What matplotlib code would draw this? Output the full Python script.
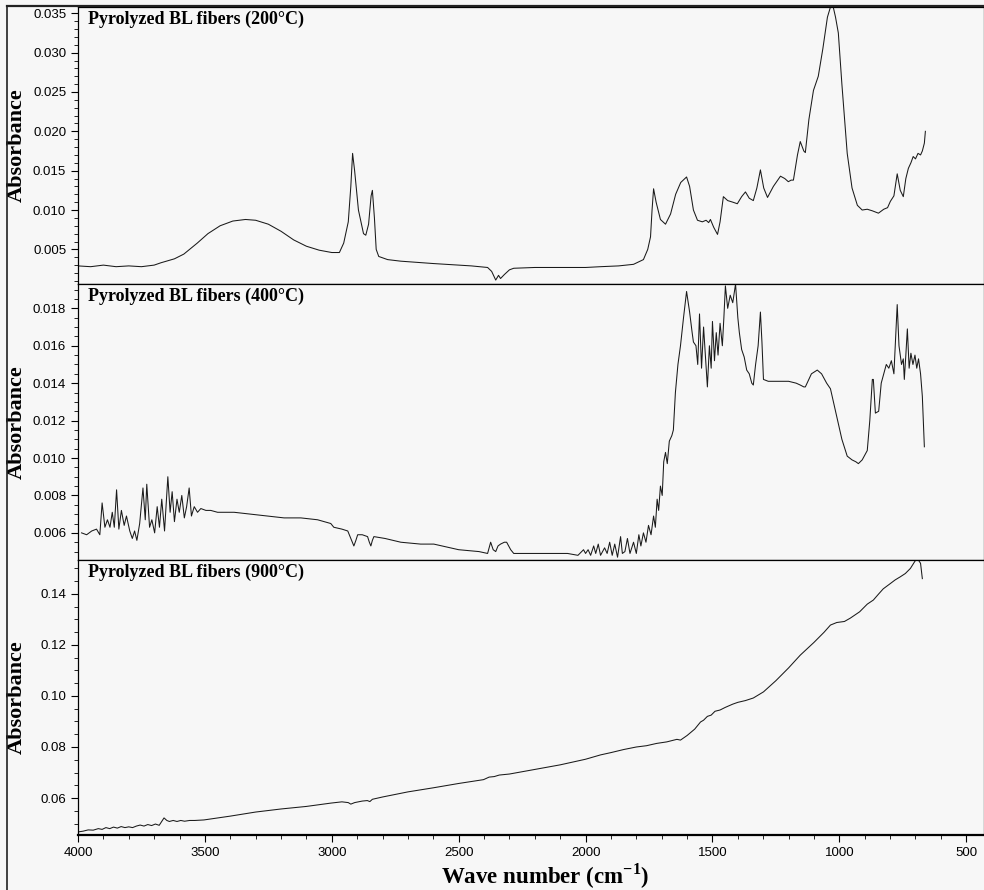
import matplotlib
matplotlib.use("Agg")
import matplotlib.pyplot as plt
from matplotlib.ticker import MultipleLocator, FormatStrFormatter
from matplotlib.lines import Line2D

plt.rcParams["font.family"] = ["Liberation Sans", "DejaVu Sans"]
plt.rcParams["mathtext.fontset"] = "custom"
plt.rcParams["mathtext.rm"] = "Liberation Serif:bold"
plt.rcParams["mathtext.bf"] = "Liberation Serif:bold"

# ---------- data ----------
wn_200 = [4000, 3950, 3900, 3850, 3800, 3750, 3700, 3673, 3620, 3583, 3530, 3488, 3440, 3390,
          3340, 3300, 3250, 3200, 3150, 3100, 3050, 3000, 2970, 2953, 2935, 2925, 2918, 2910,
          2895, 2875, 2866, 2855, 2845, 2840, 2832, 2825, 2815, 2780, 2728, 2600, 2450, 2386,
          2370, 2354, 2343, 2335, 2320, 2300, 2283, 2200, 2100, 2000, 1941, 1870, 1811, 1772,
          1755, 1744, 1738, 1732, 1722, 1705, 1685, 1665, 1645, 1625, 1602, 1590, 1575, 1559,
          1540, 1525, 1515, 1508, 1495, 1480, 1470, 1457, 1440, 1420, 1402, 1385, 1370, 1355,
          1339, 1325, 1311, 1298, 1283, 1260, 1232, 1215, 1201, 1190, 1181, 1165, 1154, 1140,
          1134, 1120, 1102, 1083, 1065, 1047, 1035, 1029, 1015, 1004, 990, 969, 950, 929, 910,
          890, 870, 846, 825, 810, 799, 785, 772, 760, 748, 738, 728, 718, 709, 700, 690, 680,
          673, 665, 661]
abs_200 = [0.0029, 0.0028, 0.0030, 0.0028, 0.0029, 0.0028, 0.0030, 0.0033, 0.0038, 0.0044,
           0.0058, 0.0070, 0.0080, 0.0086, 0.0088, 0.0087, 0.0082, 0.0073, 0.0062, 0.0054,
           0.0049, 0.0046, 0.0046, 0.0058, 0.0085, 0.0130, 0.0172, 0.0150, 0.0100, 0.0070,
           0.0068, 0.0082, 0.0118, 0.0125, 0.0090, 0.0050, 0.0041, 0.0037, 0.0035, 0.0032,
           0.0029, 0.0027, 0.0022, 0.0011, 0.0017, 0.0013, 0.0018, 0.0024, 0.0026, 0.0027,
           0.0027, 0.0027, 0.0028, 0.0029, 0.0031, 0.0037, 0.0050, 0.0066, 0.0100, 0.0127,
           0.0110, 0.0088, 0.0082, 0.0095, 0.0120, 0.0135, 0.0142, 0.0130, 0.0100, 0.0087,
           0.0085, 0.0087, 0.0084, 0.0088, 0.0078, 0.0069, 0.0085, 0.0117, 0.0112, 0.0110,
           0.0108, 0.0117, 0.0123, 0.0115, 0.0112, 0.0128, 0.0151, 0.0128, 0.0116, 0.0130,
           0.0143, 0.0140, 0.0136, 0.0138, 0.0138, 0.0170, 0.0187, 0.0175, 0.0173, 0.0215,
           0.0252, 0.0270, 0.0305, 0.0345, 0.0358, 0.0365, 0.0345, 0.0325, 0.0260, 0.0172,
           0.0128, 0.0106, 0.0100, 0.0101, 0.0099, 0.0096, 0.0101, 0.0103, 0.0111, 0.0118,
           0.0146, 0.0125, 0.0117, 0.0140, 0.0153, 0.0160, 0.0168, 0.0165, 0.0172, 0.0170,
           0.0175, 0.0185, 0.0200]

wn_400 = [3986, 3966, 3946, 3927, 3914, 3905, 3894, 3884, 3874, 3865, 3857, 3848, 3839, 3829,
          3818, 3809, 3796, 3786, 3777, 3768, 3757, 3744, 3735, 3729, 3718, 3709, 3698, 3688,
          3679, 3670, 3659, 3646, 3637, 3629, 3620, 3610, 3601, 3591, 3581, 3572, 3562, 3553,
          3542, 3529, 3516, 3496, 3477, 3450, 3385, 3319, 3254, 3188, 3122, 3056, 3004, 2992,
          2960, 2937, 2925, 2913, 2905, 2898, 2880, 2859, 2852, 2846, 2840, 2834, 2790, 2728,
          2650, 2598, 2500, 2420, 2386, 2374, 2364, 2354, 2345, 2335, 2320, 2311, 2295, 2283,
          2205, 2120, 2071, 2030, 2008, 2000, 1990, 1980, 1968, 1960, 1950, 1941, 1925, 1915,
          1905, 1895, 1885, 1874, 1862, 1855, 1845, 1835, 1825, 1811, 1800, 1790, 1782, 1772,
          1762, 1752, 1742, 1732, 1725, 1718, 1712, 1705, 1698, 1692, 1685, 1678, 1670, 1660,
          1654, 1646, 1636, 1626, 1614, 1602, 1590, 1580, 1575, 1565, 1558, 1551, 1543, 1535,
          1528, 1520, 1512, 1505, 1500, 1492, 1485, 1478, 1470, 1461, 1455, 1449, 1440, 1430,
          1420, 1409, 1400, 1394, 1385, 1375, 1365, 1355, 1345, 1339, 1330, 1320, 1311, 1305,
          1299, 1280, 1250, 1200, 1170, 1154, 1140, 1134, 1110, 1087, 1070, 1050, 1035, 1010,
          990, 969, 950, 935, 925, 910, 890, 880, 870, 866, 858, 845, 835, 827, 815, 805, 795,
          785, 772, 765, 755, 748, 744, 738, 732, 725, 718, 710, 702, 695, 688, 680, 673, 665]
abs_400 = [0.0060, 0.0059, 0.0061, 0.0062, 0.0059, 0.0076, 0.0063, 0.0067, 0.0063, 0.0071,
           0.0063, 0.0083, 0.0062, 0.0072, 0.0064, 0.0069, 0.0061, 0.0057, 0.0061, 0.0056,
           0.0065, 0.0084, 0.0067, 0.0086, 0.0063, 0.0067, 0.0060, 0.0074, 0.0063, 0.0078,
           0.0061, 0.0090, 0.0071, 0.0082, 0.0066, 0.0078, 0.0071, 0.0080, 0.0068, 0.0074,
           0.0084, 0.0069, 0.0074, 0.0071, 0.0073, 0.0072, 0.0072, 0.0071, 0.0071, 0.0070,
           0.0069, 0.0068, 0.0068, 0.0067, 0.0065, 0.0063, 0.0062, 0.0061, 0.0057, 0.0053,
           0.0056, 0.0059, 0.0059, 0.0058, 0.0055, 0.0053, 0.0056, 0.0058, 0.0057, 0.0055,
           0.0054, 0.0054, 0.0051, 0.0050, 0.0049, 0.0055, 0.0051, 0.0050, 0.0053, 0.0054,
           0.0055, 0.0055, 0.0051, 0.0049, 0.0049, 0.0049, 0.0049, 0.0048, 0.0051, 0.0049,
           0.0051, 0.0048, 0.0053, 0.0049, 0.0054, 0.0048, 0.0052, 0.0049, 0.0055, 0.0048,
           0.0054, 0.0047, 0.0058, 0.0049, 0.0050, 0.0057, 0.0049, 0.0055, 0.0049, 0.0059,
           0.0053, 0.0060, 0.0055, 0.0064, 0.0059, 0.0069, 0.0063, 0.0078, 0.0072, 0.0085,
           0.0080, 0.0098, 0.0103, 0.0097, 0.0109, 0.0112, 0.0115, 0.0135, 0.0150, 0.0160,
           0.0175, 0.0189, 0.0178, 0.0167, 0.0162, 0.0160, 0.0150, 0.0177, 0.0148, 0.0170,
           0.0155, 0.0138, 0.0160, 0.0148, 0.0173, 0.0152, 0.0167, 0.0155, 0.0172, 0.0160,
           0.0175, 0.0192, 0.0180, 0.0187, 0.0183, 0.0193, 0.0175, 0.0167, 0.0158, 0.0154,
           0.0147, 0.0145, 0.0140, 0.0139, 0.0150, 0.0160, 0.0178, 0.0162, 0.0142, 0.0141,
           0.0141, 0.0141, 0.0140, 0.0139, 0.0138, 0.0138, 0.0145, 0.0147, 0.0145, 0.0140,
           0.0137, 0.0122, 0.0110, 0.0101, 0.0099, 0.0098, 0.0097, 0.0099, 0.0104, 0.0120,
           0.0142, 0.0142, 0.0124, 0.0125, 0.0140, 0.0144, 0.0150, 0.0148, 0.0152, 0.0145,
           0.0182, 0.0160, 0.0150, 0.0153, 0.0142, 0.0155, 0.0169, 0.0148, 0.0156, 0.0150,
           0.0155, 0.0148, 0.0153, 0.0145, 0.0133, 0.0106]

wn_900 = [4000, 3980, 3960, 3940, 3920, 3905, 3890, 3875, 3860, 3845, 3830, 3815, 3800, 3785,
          3770, 3755, 3740, 3725, 3710, 3695, 3680, 3661, 3650, 3640, 3625, 3610, 3595, 3580,
          3560, 3540, 3504, 3400, 3300, 3200, 3100, 3004, 2960, 2935, 2925, 2910, 2880, 2860,
          2850, 2840, 2800, 2700, 2600, 2500, 2402, 2380, 2360, 2340, 2300, 2200, 2100, 2000,
          1941, 1900, 1850, 1800, 1760, 1720, 1680, 1660, 1640, 1626, 1600, 1570, 1547, 1535,
          1520, 1505, 1490, 1470, 1450, 1420, 1400, 1370, 1339, 1299, 1250, 1200, 1154, 1100,
          1060, 1035, 1010, 980, 957, 920, 890, 866, 845, 827, 800, 780, 760, 740, 720, 701,
          690, 680, 673]
abs_900 = [0.0467, 0.0470, 0.0475, 0.0474, 0.0480, 0.0477, 0.0484, 0.0480, 0.0486, 0.0482,
           0.0488, 0.0484, 0.0487, 0.0484, 0.0490, 0.0494, 0.0490, 0.0496, 0.0492, 0.0498,
           0.0493, 0.0522, 0.0512, 0.0508, 0.0512, 0.0508, 0.0512, 0.0509, 0.0512, 0.0512,
           0.0514, 0.0529, 0.0545, 0.0557, 0.0567, 0.0580, 0.0585, 0.0582, 0.0576, 0.0582,
           0.0588, 0.0590, 0.0586, 0.0595, 0.0604, 0.0624, 0.0640, 0.0657, 0.0672, 0.0682,
           0.0684, 0.0690, 0.0694, 0.0712, 0.0730, 0.0752, 0.0769, 0.0778, 0.0790, 0.0800,
           0.0805, 0.0814, 0.0820, 0.0825, 0.0830, 0.0827, 0.0845, 0.0870, 0.0898, 0.0905,
           0.0920, 0.0925, 0.0940, 0.0945, 0.0955, 0.0968, 0.0975, 0.0982, 0.0992, 0.1016,
           0.1060, 0.1110, 0.1160, 0.1210, 0.1250, 0.1278, 0.1288, 0.1292, 0.1305, 0.1330,
           0.1360, 0.1376, 0.1400, 0.1420, 0.1440, 0.1455, 0.1467, 0.1480, 0.1500, 0.1530,
           0.1535, 0.1520, 0.1460]

titles = ["Pyrolyzed BL fibers (200°C)", "Pyrolyzed BL fibers (400°C)", "Pyrolyzed BL fibers (900°C)"]
ylims = [(0.0006, 0.0358), (0.00455, 0.0193), (0.0455, 0.1533)]
majors = [0.005, 0.002, 0.02]
minors = [0.001, 0.0005, 0.005]
fmts = ["%.3f", "%.3f", "%.2f"]
series = [(wn_200, abs_200), (wn_400, abs_400), (wn_900, abs_900)]

# ---------- figure ----------
W, H = 984, 890
fig = plt.figure(figsize=(W / 100, H / 100), dpi=100, facecolor="#f7f7f7")

# panel edges in pixels (top, bottom)
edges = [(7, 284), (284, 560), (560, 835)]
left_px = 78
axes = []
for i, (t, b) in enumerate(edges):
    ax = fig.add_axes([left_px / W, 1 - b / H, 1 - left_px / W, (b - t) / H])
    ax.set_facecolor("#f7f7f7")
    x, y = series[i]
    ax.plot(x, y, color="#1a1a1a", lw=0.75)
    ax.set_xlim(4000, 430)
    ax.set_ylim(*ylims[i])
    ax.yaxis.set_major_locator(MultipleLocator(majors[i]))
    ax.yaxis.set_minor_locator(MultipleLocator(minors[i]))
    ax.yaxis.set_major_formatter(FormatStrFormatter(fmts[i]))
    ax.xaxis.set_major_locator(MultipleLocator(500))
    ax.xaxis.set_minor_locator(MultipleLocator(100))
    ax.tick_params(axis="y", which="major", length=5, labelsize=9.5, width=0.8)
    ax.tick_params(axis="y", which="minor", length=3, width=0.6)
    ax.tick_params(axis="x", which="major", length=5, labelsize=9.5, width=0.8, pad=4)
    ax.tick_params(axis="x", which="minor", length=3, width=0.6)
    if i < 2:
        ax.tick_params(axis="x", which="both", bottom=False, labelbottom=False)
    for s in ax.spines.values():
        s.set_linewidth(0.9)
    ax.set_ylabel("Absorbance", fontfamily="Liberation Serif", fontweight="bold",
                  fontsize=16, va="center")
    ax.yaxis.set_label_coords(-0.068, 0.5)
    ax.text(0.011, 0.985, titles[i], transform=ax.transAxes, va="top", ha="left",
            fontfamily="Liberation Serif", fontweight="bold", fontsize=13)
    axes.append(ax)

axes[-1].spines["bottom"].set_linewidth(1.6)

fig.text(545 / W, 1 - 876 / H, "Wave number (cm$^{-1}$)", ha="center", va="center",
         fontfamily="Liberation Serif", fontweight="bold", fontsize=16.5)

# scanned page frame
fig.add_artist(Line2D([7 / W, 7 / W], [0, 1 - 6 / H], transform=fig.transFigure, color="#222222", lw=1.2))
fig.add_artist(Line2D([7 / W, 1], [1 - 6 / H, 1 - 6 / H], transform=fig.transFigure, color="#222222", lw=1.6))

fig.savefig("out.png", dpi=100, facecolor=fig.get_facecolor())
